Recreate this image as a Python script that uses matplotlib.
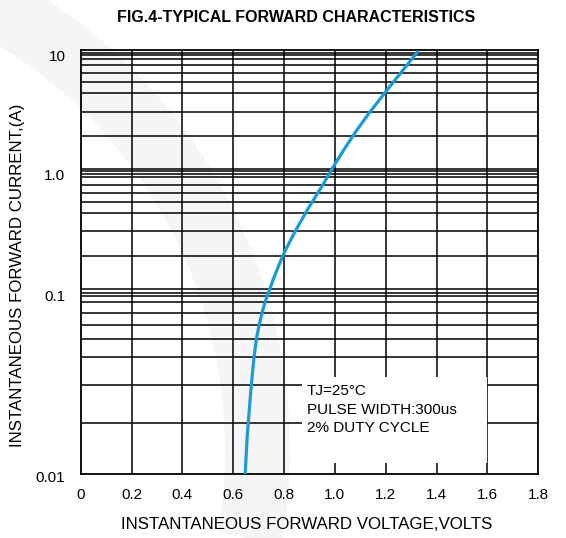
import numpy as np
import matplotlib
matplotlib.use("Agg")
import matplotlib.pyplot as plt
from matplotlib.patches import Rectangle, Wedge
from matplotlib.transforms import ScaledTranslation

plt.rcParams['font.family'] = ['Liberation Sans', 'DejaVu Sans']

# curve: forward voltage (V) vs forward current (A)
volts = [0.647, 0.655, 0.659, 0.671, 0.682, 0.691, 0.701, 0.714, 0.726, 0.738,
         0.757, 0.780, 0.802, 0.843, 0.895, 0.948, 0.998, 1.040, 1.079,
         1.131, 1.204, 1.263, 1.328]
amps = [0.010, 0.0166, 0.0199, 0.030, 0.040, 0.050, 0.0595, 0.0705, 0.081, 0.098,
        0.127, 0.169, 0.2155, 0.298, 0.4385, 0.673, 1.13, 1.59, 2.12,
        2.89, 4.24, 6.19, 10.33]

x_ticks = [0, 0.2, 0.4, 0.6, 0.8, 1.0, 1.2, 1.4, 1.6, 1.8]
x_labels = ['0', '0.2', '0.4', '0.6', '0.8', '1.0', '1.2', '1.4', '1.6', '1.8']
y_ticks = [0.01, 0.1, 1, 10]
y_labels = ['0.01', '0.1', '1.0', '10']
note = "TJ=25\u00b0C\nPULSE WIDTH:300us\n2% DUTY CYCLE"

# the printed log paper is not uniform: calibrate the scale on its grid lines
grid_vals = [0.01, 0.02, 0.03, 0.04, 0.05, 0.06, 0.07, 0.08, 0.09, 0.1, 0.105,
             0.2, 0.3, 0.4, 0.5, 0.6, 0.7, 0.8, 0.9, 1.0, 1.05,
             2, 3, 4, 5, 6, 7, 8, 9, 10, 10.5]
grid_pix = [474, 422.7, 385.3, 356.7, 339.3, 325.3, 312.7, 302, 295.5, 292.7, 289.3,
            256.3, 231.3, 212.7, 202, 192.7, 184.7, 177.3, 174, 171.3, 168.7,
            136.3, 112, 93.3, 82, 73.3, 64.7, 58.7, 55.3, 52.7, 50]
lg = np.log10(grid_vals)
pos = 474 - np.array(grid_pix)


def fwd(y):
    y = np.clip(np.asarray(y, dtype=float), 1e-6, None)
    return np.interp(np.log10(y), lg, pos, left=-1, right=pos[-1] + 1)


def inv(p):
    return 10 ** np.interp(p, pos, lg)


fig = plt.figure(figsize=(5.66, 5.38), dpi=100)

# faint logo watermark behind the chart
bg = fig.add_axes([0, 0, 1, 1], zorder=-1)
bg.set_xlim(0, 566)
bg.set_ylim(0, 538)
bg.axis('off')
bg.add_patch(Wedge((-250, 88), 540, -10, 62, width=65,
                   facecolor='#f5f5f5', edgecolor='none'))

ax = fig.add_axes([80.7 / 566, 1 - 474 / 538, (538.3 - 80.7) / 566, 424 / 538])
ax.patch.set_alpha(0)
ax.set_yscale('function', functions=(fwd, inv))
ax.set_xlim(0, 1.8)
ax.set_ylim(0.01, 10.5)

for v in grid_vals[1:-1]:
    ax.axhline(v, color='black', lw=1.1, zorder=1)
for v in x_ticks[1:-1]:
    ax.axvline(v, color='black', lw=1.1, zorder=1)

ax.set_xticks(x_ticks)
ax.set_xticklabels(x_labels)
ax.set_yticks(y_ticks)
ax.set_yticklabels(y_labels)
ax.minorticks_off()
ax.tick_params(length=0, labelsize=11, pad=10)
ax.tick_params(axis='y', pad=11)
# the printed labels sit a little below their lines
shift = ScaledTranslation(0, -0.03, fig.dpi_scale_trans)
for lab in ax.get_yticklabels():
    lab.set_transform(lab.get_transform() + shift)
for s in ax.spines.values():
    s.set_linewidth(1.3)

ax.add_patch(Rectangle((0.869, 0.01156), 1.6 - 0.869, 0.0327 - 0.01156,
                       facecolor='white', edgecolor='none', zorder=2))
ax.text(0.889, 0.023, note, fontsize=11, va='center', ha='left',
        linespacing=1.4, zorder=3)

ax.plot(volts, amps, color='#1a9ad6', lw=2.3, zorder=4, solid_capstyle='butt')

ax.set_xlabel('INSTANTANEOUS FORWARD VOLTAGE,VOLTS', fontsize=12.2, va='center')
ax.xaxis.set_label_coords(0.4945, -0.120)
ax.set_ylabel('INSTANTANEOUS FORWARD CURRENT,(A)', fontsize=12.2, va='center')
ax.yaxis.set_label_coords(-0.139, 0.469)
fig.text(296 / 566, 1 - 17 / 538, 'FIG.4-TYPICAL FORWARD CHARACTERISTICS',
         fontsize=11.5, fontweight='bold', ha='center', va='center')

fig.savefig('out.png', dpi=100)
